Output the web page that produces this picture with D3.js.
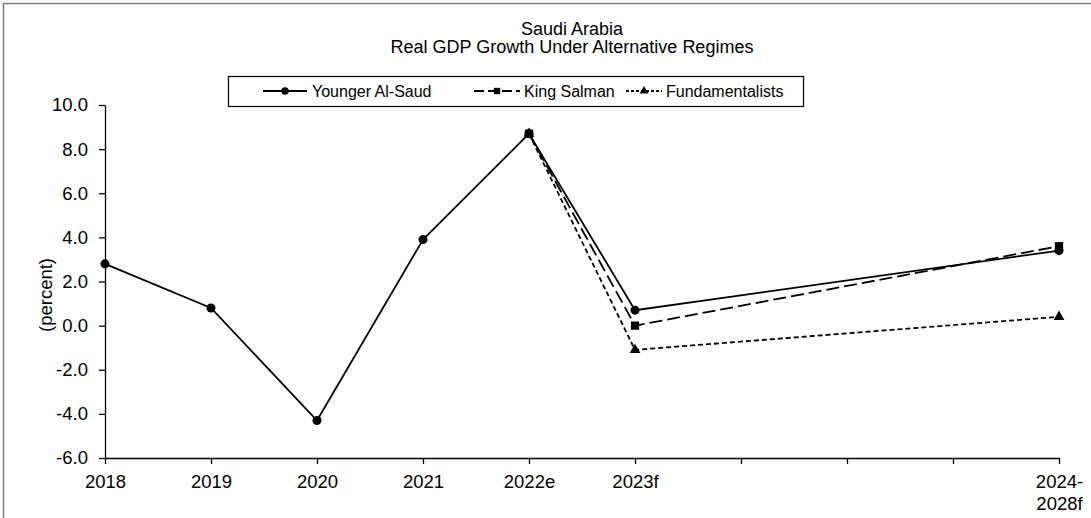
<!DOCTYPE html>
<html>
<head>
<meta charset="utf-8">
<script src="https://cdn.jsdelivr.net/npm/d3@7"></script>
<style>
  body { margin: 0; background: #fff; }
  svg text { font-family: "Liberation Sans", Arial, sans-serif; fill: #000; }
</style>
</head>
<body>
<div class="chart"></div>
<script>
// categories on the x axis (the three blank slots sit between 2023f and 2024-2028f)
const categories = ["2018", "2019", "2020", "2021", "2022e", "2023f", "b1", "b2", "b3", "2024-2028f"];
const tickLabels = ["2018", "2019", "2020", "2021", "2022e", "2023f", "", "", "", "2024-2028f"];

// real GDP growth, percent
const youngerAlSaud   = [2.8, 0.8, -4.3, 3.9, 8.7, 0.7, null, null, null, 3.4];
const kingSalman      = [null, null, null, null, 8.7, 0.0, null, null, null, 3.6];
const fundamentalists = [null, null, null, null, 8.7, -1.1, null, null, null, 0.4];

const yTicks = [-6, -4, -2, 0, 2, 4, 6, 8, 10];

const titleLines = ["Saudi Arabia", "Real GDP Growth Under Alternative Regimes"];

function init(){
    createChart(".chart");
}

function createChart(id){
    const W = 1091, H = 518;
    const margin = {top: 105, right: 32, bottom: 60, left: 105};

    const svg = d3.select(id)
        .append("svg")
        .attr("width", W)
        .attr("height", H);

    svg.append("rect").attr("width", W).attr("height", H).attr("fill", "#fff");

    // outer frame (top + left only visible)
    svg.append("path")
        .attr("d", `M3.5,${H} V3.5 H${W}`)
        .attr("fill", "none")
        .attr("stroke", "#7f7f7f")
        .attr("stroke-width", 1.5);

    const x = d3.scalePoint()
        .domain(categories)
        .range([margin.left, W - margin.right]);

    const y = d3.scaleLinear()
        .domain([-6, 10])
        .range([458, margin.top]);

    // title
    svg.append("g")
        .selectAll("text")
        .data(titleLines)
        .join("text")
        .attr("x", 572)
        .attr("y", (d, i) => 35 + i * 18)
        .attr("text-anchor", "middle")
        .style("font-size", "18px")
        .text(d => d);

    // y axis
    const yAxis = svg.append("g")
        .attr("transform", `translate(${margin.left},0)`)
        .call(d3.axisLeft(y)
            .tickValues(yTicks)
            .tickFormat(d => d.toFixed(1))
            .tickSize(6)
            .tickPadding(11)
            .tickSizeOuter(0));
    yAxis.select(".domain").attr("stroke", "#000").attr("stroke-width", 1.3);
    yAxis.selectAll(".tick line").attr("stroke", "#000").attr("stroke-width", 1.3);
    yAxis.selectAll("text").style("font-size", "18.5px").attr("fill", "#000");

    // x axis
    const xAxis = svg.append("g")
        .attr("transform", `translate(0,${y(-6)})`)
        .call(d3.axisBottom(x)
            .tickFormat("")
            .tickSize(6)
            .tickSizeOuter(0));
    xAxis.select(".domain").attr("stroke", "#000").attr("stroke-width", 1.3);
    xAxis.selectAll(".tick line").attr("stroke", "#000").attr("stroke-width", 1.3);
    xAxis.selectAll(".tick")
        .append("text")
        .attr("fill", "#000")
        .attr("text-anchor", "middle")
        .style("font-size", "18.5px")
        .each(function(d){
            const lab = tickLabels[categories.indexOf(d)];
            const parts = lab.length > 5 ? [lab.slice(0, 5), lab.slice(5)] : [lab];
            d3.select(this).selectAll("tspan")
                .data(parts)
                .join("tspan")
                .attr("x", 0)
                .attr("y", (p, i) => 30 + i * 22)
                .text(p => p);
        });

    // y axis title
    svg.append("text")
        .attr("transform", "translate(52,295) rotate(-90)")
        .attr("text-anchor", "middle")
        .style("font-size", "18.5px")
        .text("(percent)");

    const series = [
        {name: "Younger Al-Saud", values: youngerAlSaud, dash: null, marker: d3.symbolCircle, size: 64, lsize: 44},
        {name: "Fundamentalists", values: fundamentalists, dash: "5,3", marker: d3.symbolTriangle, size: 50, lsize: 34},
        {name: "King Salman", values: kingSalman, dash: "13,5", marker: d3.symbolSquare, size: 68, lsize: 40}
    ];

    const line = d3.line()
        .x(d => x(d.cat))
        .y(d => y(d.v));

    series.forEach(s => {
        const pts = categories
            .map((c, i) => ({cat: c, v: s.values[i]}))
            .filter(d => d.v !== null);
        const g = svg.append("g");
        g.append("path")
            .datum(pts)
            .attr("d", line)
            .attr("fill", "none")
            .attr("stroke", "#000")
            .attr("stroke-width", 1.8)
            .attr("stroke-dasharray", s.dash);
        g.selectAll(".pt")
            .data(pts)
            .join("path")
            .attr("class", "pt")
            .attr("transform", d => `translate(${x(d.cat)},${y(d.v)})`)
            .attr("d", d3.symbol().type(s.marker).size(s.size))
            .attr("fill", "#000");
    });

    // legend
    const legend = svg.append("g");
    legend.append("rect")
        .attr("x", 228.5).attr("y", 76.5)
        .attr("width", 575).attr("height", 30)
        .attr("fill", "#fff")
        .attr("stroke", "#000")
        .attr("stroke-width", 1.2);

    const legendItems = [
        {s: series[0], x0: 263, x1: 307, tx: 312},
        {s: series[2], x0: 474, x1: 520, tx: 524},
        {s: series[1], x0: 626, x1: 662, tx: 666}
    ];
    legendItems.forEach(it => {
        const ly = 91;
        legend.append("line")
            .attr("x1", it.x0).attr("x2", it.x1)
            .attr("y1", ly).attr("y2", ly)
            .attr("stroke", "#000")
            .attr("stroke-width", 1.8)
            .attr("stroke-dasharray", it.s.dash === "13,5" ? "10,4" : it.s.dash === "5,3" ? "3,2" : null);
        legend.append("path")
            .attr("transform", `translate(${(it.x0 + it.x1) / 2},${ly})`)
            .attr("d", d3.symbol().type(it.s.marker).size(it.s.lsize))
            .attr("fill", "#000");
        legend.append("text")
            .attr("x", it.tx).attr("y", 97)
            .style("font-size", "16px")
            .text(it.s.name);
    });
}

init();
</script>
</body>
</html>
